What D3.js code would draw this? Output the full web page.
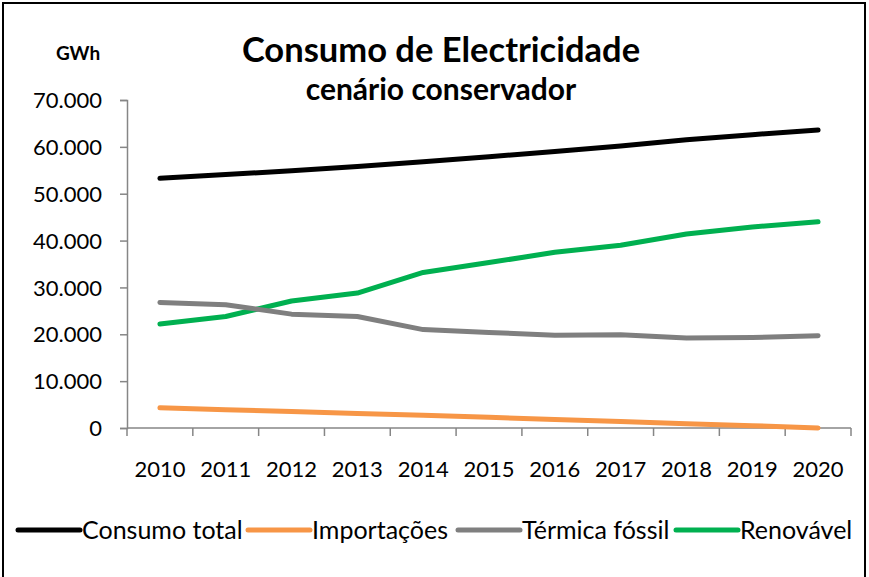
<!DOCTYPE html>
<html>
<head>
<meta charset="utf-8">
<script src="https://cdn.jsdelivr.net/npm/d3@7"></script>
<style>
  body { margin: 0; background: #fff; }
  text { font-family: Lato, "Open Sans", sans-serif; }
</style>
</head>
<body>
<script>
// Consumo de Electricidade - cenario conservador

const years = ["2010","2011","2012","2013","2014","2015","2016","2017","2018","2019","2020"];

const consumoTotal = [53300, 54100, 54900, 55800, 56800, 57900, 59000, 60200, 61500, 62600, 63600];
const importacoes  = [4300, 3900, 3500, 3100, 2700, 2300, 1800, 1400, 900, 500, 0];
const termicaFossil = [26800, 26300, 24300, 23800, 21000, 20400, 19800, 19900, 19200, 19300, 19700];
const renovavel    = [22200, 23800, 27100, 28800, 33200, 35300, 37500, 39000, 41400, 42900, 44000];

const seriesNames = ["Consumo total", "Importações", "Térmica fóssil", "Renovável"];
const seriesColors = ["#000000", "#F79646", "#7F7F7F", "#00B050"];
const yTicks = [0, 10000, 20000, 30000, 40000, 50000, 60000, 70000];

const width = 869, height = 577;
const margin = {top: 100, right: 18, bottom: 149, left: 127};

const svg = d3.select("body").append("svg")
    .attr("width", width)
    .attr("height", height);

// outer frame
svg.append("rect")
    .attr("x", 3).attr("y", 3)
    .attr("width", 862).attr("height", 580)
    .attr("fill", "none")
    .attr("stroke", "#000")
    .attr("stroke-width", 2);

const x = d3.scaleBand()
    .domain(years)
    .range([margin.left, width - margin.right])
    .padding(0);

const y = d3.scaleLinear()
    .domain([0, 70000])
    .range([height - margin.bottom, margin.top]);

const pt = d3.formatLocale({decimal: ",", thousands: ".", grouping: [3], currency: ["", ""]});
const fmt = pt.format(",");

const axisColor = "#868686";

// y axis
const yAxis = svg.append("g")
    .attr("transform", `translate(${margin.left},0)`)
    .call(d3.axisLeft(y).tickValues(yTicks).tickFormat(fmt).tickSize(7).tickPadding(18));
yAxis.select(".domain").attr("stroke", axisColor).attr("stroke-width", 1.5);
yAxis.selectAll(".tick line").attr("stroke", axisColor).attr("stroke-width", 1.5);
yAxis.selectAll("text")
    .style("font-size", "22px")
    .attr("fill", "#000")
    .attr("dy", "0.35em");

// x axis, ticks between categories
const xAxisG = svg.append("g")
    .attr("transform", `translate(0,${height - margin.bottom})`);
xAxisG.append("line")
    .attr("x1", margin.left).attr("x2", width - margin.right)
    .attr("stroke", axisColor).attr("stroke-width", 1.5);
const bounds = years.map(d => x(d)).concat([x(years[years.length - 1]) + x.bandwidth()]);
xAxisG.selectAll(".tk")
    .data(bounds)
    .join("line")
    .attr("x1", d => d).attr("x2", d => d)
    .attr("y1", 0).attr("y2", 8)
    .attr("stroke", axisColor).attr("stroke-width", 1.5);
xAxisG.selectAll(".lbl")
    .data(years)
    .join("text")
    .attr("x", d => x(d) + x.bandwidth() / 2)
    .attr("y", 49)
    .attr("text-anchor", "middle")
    .style("font-size", "22px")
    .text(d => d);

// lines
const allSeries = [consumoTotal, importacoes, termicaFossil, renovavel];
const line = d3.line()
    .x((d, i) => x(years[i]) + x.bandwidth() / 2)
    .y(d => y(d));

// draw order so total is on top like the original
[3, 2, 1, 0].forEach(k => {
  svg.append("path")
      .datum(allSeries[k])
      .attr("d", line)
      .attr("fill", "none")
      .attr("stroke", seriesColors[k])
      .attr("stroke-width", 5)
      .attr("stroke-linecap", "round")
      .attr("stroke-linejoin", "round");
});

// titles
svg.append("text")
    .attr("x", 441).attr("y", 62)
    .attr("text-anchor", "middle")
    .style("font-size", "34.5px")
    .style("font-weight", "bold")
    .text("Consumo de Electricidade");

svg.append("text")
    .attr("x", 441).attr("y", 100)
    .attr("text-anchor", "middle")
    .style("font-size", "30px")
    .style("font-weight", "bold")
    .text("cenário conservador");

svg.append("text")
    .attr("x", 78).attr("y", 60)
    .attr("text-anchor", "middle")
    .style("font-size", "19px")
    .style("font-weight", "bold")
    .text("GWh");

// legend
const legendX = [18, 248, 458, 676];
const legend = svg.append("g").attr("transform", "translate(0,530)");
seriesNames.forEach((name, i) => {
  legend.append("line")
      .attr("x1", legendX[i]).attr("x2", legendX[i] + 62)
      .attr("stroke", seriesColors[i])
      .attr("stroke-width", 5)
      .attr("stroke-linecap", "round");
  legend.append("text")
      .attr("x", legendX[i] + 64)
      .attr("y", 0)
      .attr("dy", "0.35em")
      .style("font-size", "25px")
      .text(name);
});
</script>
</body>
</html>
